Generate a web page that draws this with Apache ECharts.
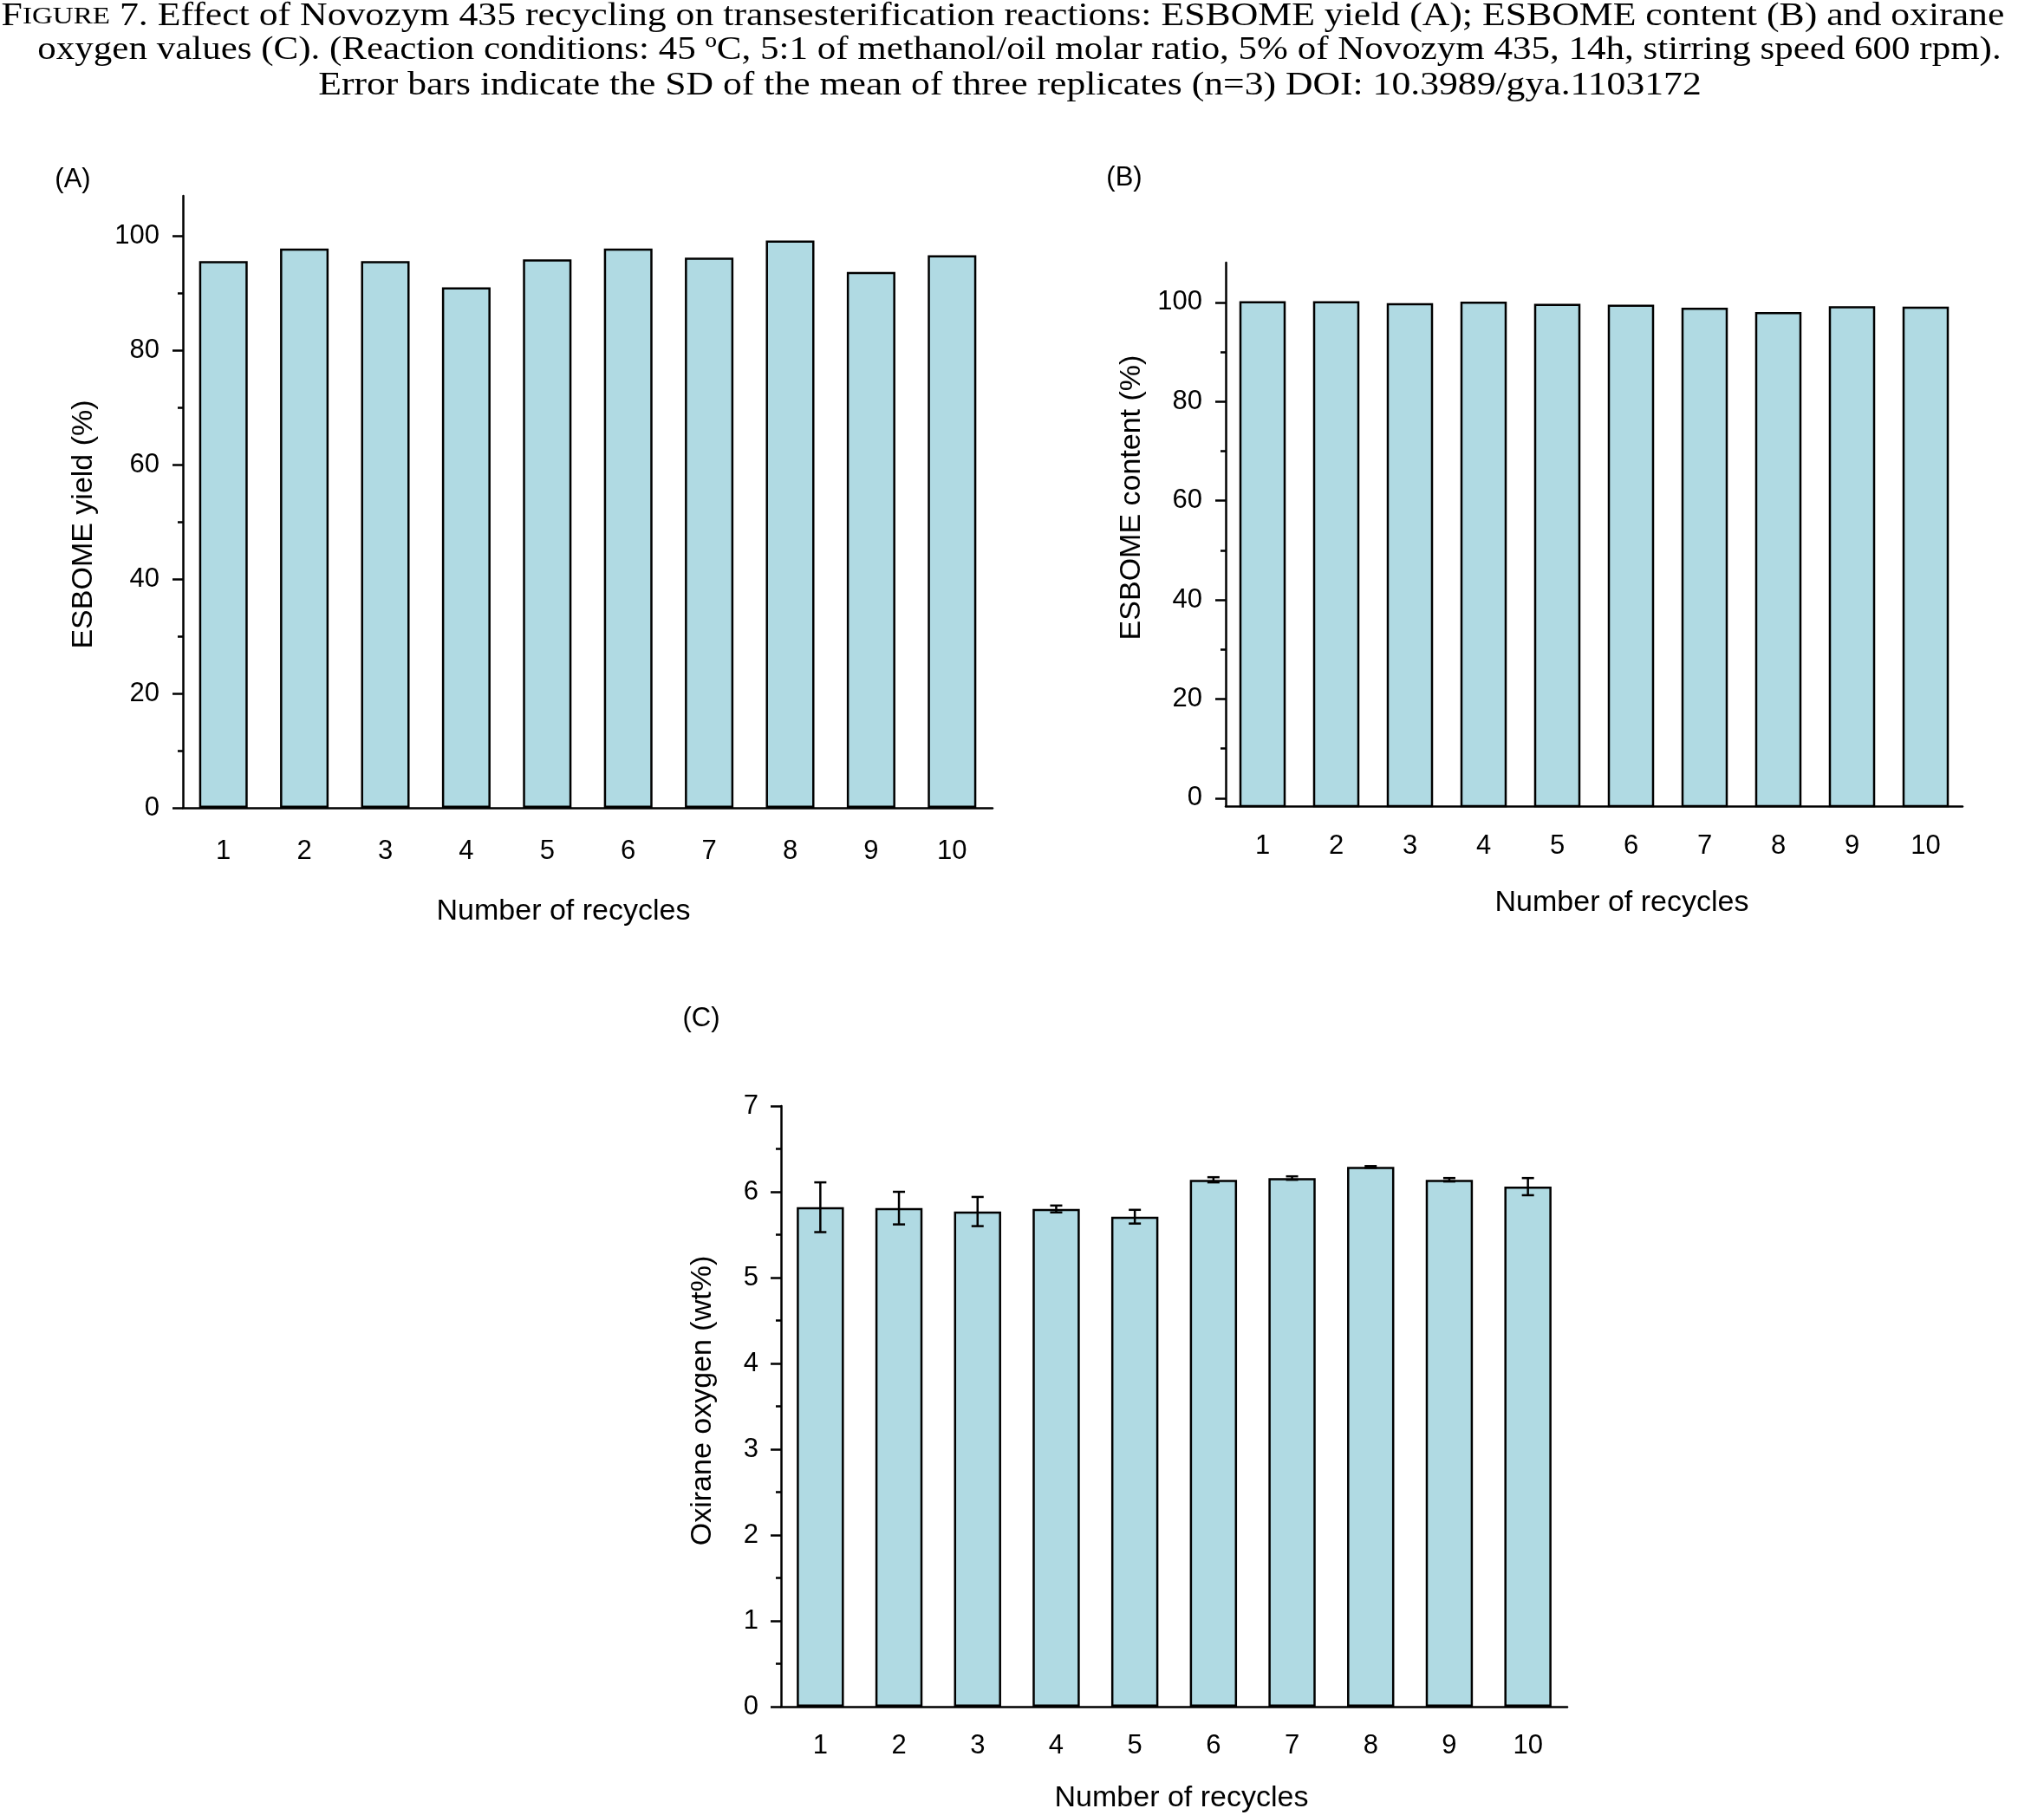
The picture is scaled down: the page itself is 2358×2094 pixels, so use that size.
<!DOCTYPE html>
<html>
<head>
<meta charset="utf-8">
<script src="https://cdn.jsdelivr.net/npm/echarts@6.0.0/dist/echarts.min.js"></script>
<style>
  html, body { margin: 0; padding: 0; background: #fff; }
  #chart { width: 2358px; height: 2094px; }
</style>
</head>
<body>
<div id="chart"></div>
<script>
// data
var recycles = ['1', '2', '3', '4', '5', '6', '7', '8', '9', '10'];
var yieldA = [95.6, 97.8, 95.6, 91.0, 95.9, 97.8, 96.2, 99.2, 93.7, 96.6];
var contentB = [100.0, 100.0, 99.6, 99.9, 99.5, 99.3, 98.7, 97.8, 99.0, 98.9];
var oxiraneC = [5.82, 5.81, 5.77, 5.80, 5.71, 6.14, 6.16, 6.29, 6.14, 6.06];
var oxiraneSD = [0.29, 0.19, 0.17, 0.04, 0.08, 0.03, 0.02, 0.01, 0.02, 0.10];

var pctTicks = [0, 20, 40, 60, 80, 100];
var pctMinor = [10, 30, 50, 70, 90];
var oxTicks = [0, 1, 2, 3, 4, 5, 6, 7];
var oxMinor = [0.5, 1.5, 2.5, 3.5, 4.5, 5.5, 6.5];

var captionLines = [
  '{f|F}{s|IGURE} 7. Effect of Novozym 435 recycling on transesterification reactions: ESBOME yield (A); ESBOME content (B) and oxirane',
  'oxygen values (C). (Reaction conditions: 45 \u00baC, 5:1 of methanol/oil molar ratio, 5% of Novozym 435, 14h, stirring speed 600 rpm).',
  'Error bars indicate the SD of the mean of three replicates (n=3) DOI: 10.3989/gya.1103172'
];

var BAR = '#b0dae3';
var SANS = '"Liberation Sans", Arial, Helvetica, sans-serif';
var SERIF = '"Liberation Serif", "Times New Roman", serif';
var B_MIN = -1.6;

var chart = echarts.init(document.getElementById('chart'));

function xAxisFor(grid, margin) {
  return {
    type: 'category', gridIndex: grid, data: recycles,
    axisLine: { onZero: false, lineStyle: { color: '#000', width: 2.5 } },
    axisTick: { alignWithLabel: true, length: 13, lineStyle: { color: '#000', width: 2.5 } },
    axisLabel: { color: '#000', fontSize: 31, fontFamily: SANS, margin: margin },
    splitLine: { show: false }
  };
}

function yAxisFor(grid, min, max, ticks, margin) {
  return {
    type: 'value', gridIndex: grid, min: min, max: max, position: 'left',
    axisLine: { show: true, lineStyle: { color: '#000', width: 2.5 } },
    axisTick: { show: true, length: 12, customValues: ticks, lineStyle: { color: '#000', width: 2.5 } },
    axisLabel: { color: '#000', fontSize: 31, fontFamily: SANS, margin: margin, customValues: ticks },
    splitLine: { show: false }
  };
}

// second axis in the same grid only carries the short minor ticks
function minorAxisFor(grid, min, max, ticks) {
  return {
    type: 'value', gridIndex: grid, min: min, max: max, position: 'left', offset: 0,
    axisLine: { show: false },
    axisTick: { show: true, length: 6, customValues: ticks, lineStyle: { color: '#000', width: 2.5 } },
    axisLabel: { show: false },
    splitLine: { show: false }
  };
}

function label(text, x, y, size, rot) {
  return {
    type: 'text', x: x, y: y, rotation: rot || 0,
    style: {
      text: text, fill: '#000', fontSize: size, fontFamily: SANS,
      align: 'center', verticalAlign: 'middle',
      textAlign: 'center', textVerticalAlign: 'middle'
    }
  };
}

var graphics = [];
var capY = [19.5, 58.5, 99.5];
var capX = [1157, 1176, 1165];
var capStretch = [1.182, 1.162, 1.18];  // the caption face is wider than Liberation Serif
captionLines.forEach(function (line, i) {
  graphics.push({
    type: 'text', x: capX[i], y: capY[i], scaleX: capStretch[i],
    style: {
      text: line, fill: '#000', fontSize: 37, fontFamily: SERIF,
      align: 'center', verticalAlign: 'middle',
      textAlign: 'center', textVerticalAlign: 'middle',
      rich: {
        f: { fontSize: 37, fontFamily: SERIF, fill: '#000' },
        s: { fontSize: 28, fontFamily: SERIF, fill: '#000' }
      }
    }
  });
});
graphics.push(label('(A)', 84, 207, 31));
graphics.push(label('(B)', 1297, 205, 31));
graphics.push(label('(C)', 809, 1175, 31));
graphics.push(label('ESBOME yield (%)', 97, 605, 34, Math.PI / 2));
graphics.push(label('ESBOME content (%)', 1306, 574, 34, Math.PI / 2));
graphics.push(label('Oxirane oxygen (wt%)', 811, 1616, 34, Math.PI / 2));
graphics.push(label('Number of recycles', 650, 1052, 34));
graphics.push(label('Number of recycles', 1871, 1042, 34));
graphics.push(label('Number of recycles', 1363, 2075, 34));

var option = {
  animation: false,
  backgroundColor: '#fff',
  graphic: graphics,
  grid: [
    { left: 211, top: 226, width: 934, height: 706, containLabel: false, outerBoundsMode: 'none' },
    { left: 1414, top: 303, width: 850, height: 627, containLabel: false, outerBoundsMode: 'none' },
    { left: 901, top: 1276, width: 907, height: 693, containLabel: false, outerBoundsMode: 'none' }
  ],
  xAxis: [xAxisFor(0, 35), xAxisFor(1, 31), xAxisFor(2, 30)],
  yAxis: [
    yAxisFor(0, 0, 107, pctTicks, 27),
    minorAxisFor(0, 0, 107, pctMinor),
    yAxisFor(1, B_MIN, 108, pctTicks, 27),
    minorAxisFor(1, B_MIN, 108, pctMinor),
    yAxisFor(2, 0, 7, oxTicks, 26),
    minorAxisFor(2, 0, 7, oxMinor)
  ],
  series: [
    {
      type: 'bar', xAxisIndex: 0, yAxisIndex: 0, data: yieldA, barWidth: '60%',
      itemStyle: { color: BAR, borderColor: '#000', borderWidth: 2.5 }
    },
    {
      // bars of panel B start at the axis minimum, below zero
      type: 'custom', xAxisIndex: 1, yAxisIndex: 2,
      data: contentB.map(function (v, i) { return [i, v]; }),
      renderItem: function (params, api) {
        var top = api.coord([api.value(0), api.value(1)]);
        var base = api.coord([api.value(0), B_MIN]);
        var w = api.size([1, 0])[0] * 0.6;
        return {
          type: 'rect',
          shape: { x: top[0] - w / 2, y: top[1], width: w, height: base[1] - top[1] },
          style: { fill: BAR, stroke: '#000', lineWidth: 2.5 }
        };
      }
    },
    {
      type: 'bar', xAxisIndex: 2, yAxisIndex: 4, data: oxiraneC, barWidth: '60%',
      itemStyle: { color: BAR, borderColor: '#000', borderWidth: 2.5 }
    },
    {
      type: 'custom', xAxisIndex: 2, yAxisIndex: 4, z: 5,
      data: oxiraneC.map(function (v, i) { return [i, v, oxiraneSD[i]]; }),
      renderItem: function (params, api) {
        var i = api.value(0), m = api.value(1), sd = api.value(2);
        var hi = api.coord([i, m + sd]);
        var lo = api.coord([i, m - sd]);
        var cap = 7;
        var st = { stroke: '#000', lineWidth: 2.5 };
        return {
          type: 'group',
          children: [
            { type: 'line', shape: { x1: hi[0], y1: hi[1], x2: lo[0], y2: lo[1] }, style: st },
            { type: 'line', shape: { x1: hi[0] - cap, y1: hi[1], x2: hi[0] + cap, y2: hi[1] }, style: st },
            { type: 'line', shape: { x1: lo[0] - cap, y1: lo[1], x2: lo[0] + cap, y2: lo[1] }, style: st }
          ]
        };
      }
    }
  ]
};

chart.setOption(option);
</script>
</body>
</html>
